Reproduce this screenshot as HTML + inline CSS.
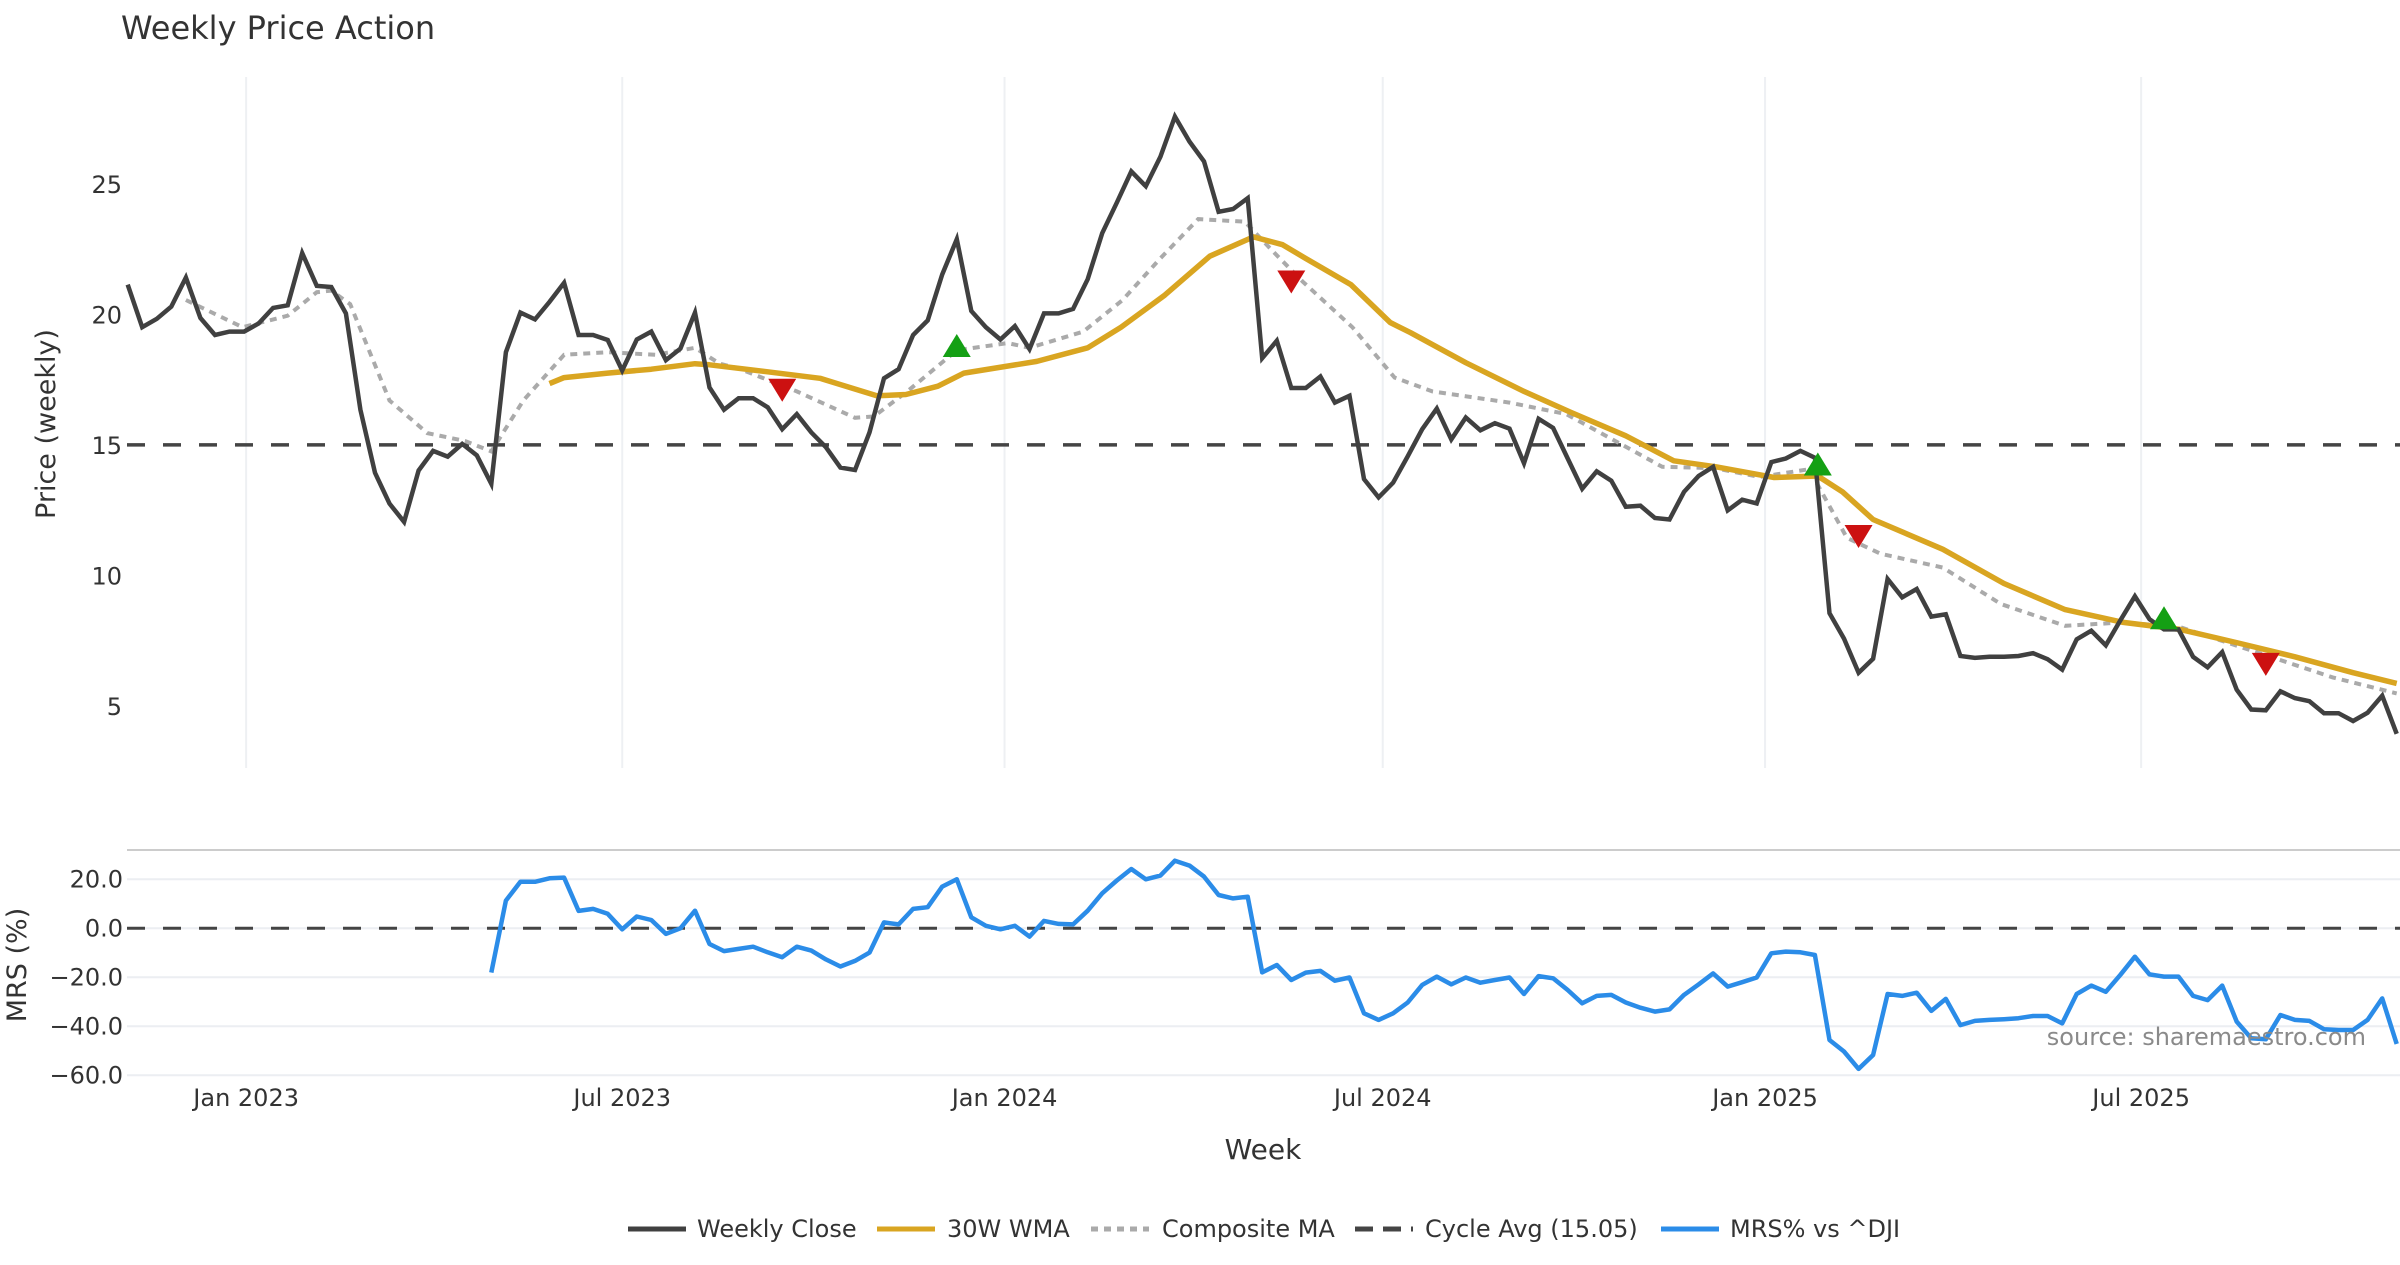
<!DOCTYPE html>
<html><head><meta charset="utf-8"><style>
html,body{margin:0;padding:0;background:#fff;}
svg text{font-family:"DejaVu Sans","Liberation Sans",sans-serif;fill:#333;}
</style></head><body>
<svg id="chart" width="2400" height="1260" xmlns="http://www.w3.org/2000/svg">
<text x="121" y="39" font-size="32">Weekly Price Action</text>
<g id="grid"></g><g id="series"></g><g id="axes"></g>
<text transform="translate(55,424) rotate(-90)" text-anchor="middle" font-size="27">Price (weekly)</text>
<text transform="translate(26,965) rotate(-90)" text-anchor="middle" font-size="27">MRS (%)</text>
<text x="1263" y="1159" text-anchor="middle" font-size="28">Week</text>
<text x="2366" y="1045" text-anchor="end" font-size="24" style="fill:#8a8a8a">source: sharemaestro.com</text>
<g id="legend"></g>
</svg>
<script>
const closeVals=[21.19,19.56,19.88,20.35,21.46,19.91,19.26,19.39,19.39,19.7,20.3,20.4,22.4,21.14,21.1,20.09,16.4,13.98,12.8,12.1,14.07,14.82,14.6,15.09,14.65,13.56,18.6,20.12,19.86,20.53,21.26,19.26,19.26,19.07,17.9,19.09,19.39,18.3,18.74,20.12,17.25,16.4,16.84,16.84,16.49,15.65,16.23,15.53,14.96,14.18,14.09,15.53,17.6,17.95,19.26,19.82,21.58,22.93,20.18,19.56,19.09,19.6,18.72,20.09,20.09,20.26,21.4,23.16,24.33,25.53,24.96,26.09,27.63,26.67,25.91,23.98,24.09,24.5,18.37,19.04,17.23,17.23,17.67,16.67,16.93,13.74,13.04,13.6,14.61,15.65,16.44,15.26,16.1,15.61,15.88,15.67,14.35,16.05,15.7,14.53,13.37,14.04,13.68,12.68,12.72,12.25,12.19,13.25,13.86,14.21,12.54,12.95,12.81,14.39,14.53,14.82,14.56,8.6,7.63,6.32,6.86,9.91,9.21,9.53,8.47,8.56,6.96,6.89,6.93,6.93,6.96,7.07,6.84,6.44,7.6,7.93,7.37,8.33,9.25,8.37,7.98,7.98,6.93,6.53,7.11,5.67,4.91,4.88,5.61,5.35,5.23,4.77,4.77,4.47,4.79,5.44,3.98];
const wmaWeeks=[29,30,33,36,39,40,44,47.6,51.5,53.5,55.7,57.5,62.5,66,68.3,71.3,74.4,77.4,79.4,81,84.1,86.8,88.2,92,96,99.2,103,106.3,109.2,113.2,116.2,117.9,120,124.8,129,133.2,137.2,141.1,145.1,149,153,156];
const wmaVals=[17.4,17.63,17.8,17.95,18.16,18.12,17.85,17.6,16.93,16.98,17.3,17.8,18.25,18.77,19.56,20.79,22.28,23.02,22.72,22.19,21.19,19.74,19.35,18.2,17.1,16.3,15.4,14.44,14.21,13.8,13.86,13.25,12.19,11.05,9.74,8.74,8.25,7.98,7.46,6.93,6.32,5.91];
const compWeeks=[4,7.9,11,13,14,15.3,18,20.6,23.2,25,27.2,30,33,36.3,39,40.7,42,46,50,51.3,53.6,57,60.5,62,65.7,68.4,71,73.6,76.8,78.9,80.8,84.2,87.1,89.7,95,98.9,105.5,109.1,112.2,115.6,118.2,120.5,124.8,128.8,133.2,137.2,141.1,146.4,151.6,156];
const compVals=[20.6,19.56,20,20.9,20.96,20.44,16.75,15.5,15.2,14.8,16.75,18.5,18.6,18.5,18.77,18.16,17.98,17.1,16.09,16.14,17.1,18.68,18.95,18.77,19.39,20.6,22.2,23.7,23.6,22.37,21.3,19.56,17.63,17.1,16.67,16.23,14.21,14.16,13.82,14.12,11.49,10.88,10.35,8.95,8.12,8.25,8.07,7.1,6.14,5.53];
const mrsStart=25;
const mrsVals=[-18.1,11.3,19.0,19.0,20.4,20.7,7.1,7.9,5.9,-0.4,4.8,3.4,-2.3,0,7.2,-6.4,-9.3,-8.4,-7.5,-9.8,-11.8,-7.5,-9.1,-12.7,-15.6,-13.3,-9.9,2.4,1.6,7.9,8.6,17,20,4.5,1,-0.4,1,-3.4,3,1.8,1.6,7.2,14.3,19.5,24.2,20,21.5,27.6,25.6,21.1,13.6,12.2,12.9,-18,-15,-21.1,-18.1,-17.4,-21.4,-20.1,-34.7,-37.4,-34.7,-30.3,-23.1,-19.7,-22.9,-20.1,-22.2,-21.1,-20.1,-26.8,-19.5,-20.4,-25.2,-30.6,-27.6,-27.2,-30.3,-32.4,-34,-33.1,-27.2,-22.9,-18.4,-23.8,-22,-20.1,-10.2,-9.5,-9.8,-10.9,-45.6,-50.3,-57.4,-51.7,-26.8,-27.6,-26.3,-33.7,-28.8,-39.5,-37.8,-37.4,-37.1,-36.7,-35.8,-35.8,-38.8,-26.8,-23.4,-25.9,-19,-11.6,-18.8,-19.7,-19.7,-27.6,-29.3,-23.4,-38.1,-44.9,-45.3,-35.4,-37.4,-37.8,-41.2,-41.5,-41.5,-37.4,-28.6,-47.2];
const cycleAvg=15.05;
const sigWeeks=[45,57,80,116.2,119,140,147];
const sigVals=[17.2,18.8,21.35,14.26,11.6,8.37,6.7];
const sigTypes=['sell','buy','sell','buy','sell','buy','sell'];
const priceTicks=[5,10,15,20,25];
const mrsTicks=[20,0,-20,-40,-60];
const mrsTickLabels=['20.0','0.0','\u221220.0','\u221240.0','\u221260.0'];
const dateTicks=['2023-01-01','2023-07-01','2024-01-01','2024-07-01','2025-01-01','2025-07-01'];
const dateTickLabels=['Jan 2023','Jul 2023','Jan 2024','Jul 2024','Jan 2025','Jul 2025'];

const NS='http://www.w3.org/2000/svg';
const X0=127.7, STEP=14.545, START=Date.UTC(2022,10,5);
const xi=i=>X0+i*STEP;
const xd=s=>{const t=Date.parse(s+'T00:00:00Z');return X0+(t-START)/864e5/7*STEP;};
const yp=v=>446.2-(v-15)*26.1;
const ym=v=>928.3-v*2.45;
function mk(tag,parent,attrs){const e=document.createElementNS(NS,tag);for(const k in attrs)e.setAttribute(k,attrs[k]);document.getElementById(parent).appendChild(e);return e;}
dateTicks.forEach((d,k)=>{
  const g=mk('line','grid',{x1:xd(d),x2:xd(d),y1:77,y2:768,stroke:'#eef0f3','stroke-width':2});
  
  
  const t=mk('text','axes',{x:xd(d),y:1106,'text-anchor':'middle','font-size':24});
  t.textContent=dateTickLabels[k];
  
  
});
priceTicks.forEach(v=>{
  const t=mk('text','axes',{x:122,y:yp(v)+8,'text-anchor':'end','font-size':24});
  t.textContent=v;
  
  
});
const mrsTopBorder=mk('line','grid',{x1:127,x2:2400,y1:850,y2:850,stroke:'#cccccc','stroke-width':2});


mrsTicks.forEach((v,k)=>{
  const g=mk('line','grid',{x1:127,x2:2400,y1:ym(v),y2:ym(v),stroke:'#eceef2','stroke-width':2});
  
  
  const t=mk('text','axes',{x:123,y:ym(v)+8,'text-anchor':'end','font-size':24});
  t.textContent=mrsTickLabels[k];
  
  
});
function path(pts){return pts.map((p,k)=>(k?'L':'M')+p[0].toFixed(1)+' '+p[1].toFixed(1)).join(' ');}
const cyc=mk('line','series',{x1:127,x2:2400,y1:yp(cycleAvg),y2:yp(cycleAvg),stroke:'#444','stroke-width':3.5,'stroke-dasharray':'18 18'});


const zl=mk('line','series',{x1:127,x2:2400,y1:ym(0),y2:ym(0),stroke:'#444','stroke-width':3,'stroke-dasharray':'18 18'});


const comp=mk('path','series',{d:path(compWeeks.map((w,k)=>[xi(w),yp(compVals[k])])),fill:'none',stroke:'#aaaaaa','stroke-width':4,'stroke-dasharray':'7 6'});


const wma=mk('path','series',{d:path(wmaWeeks.map((w,k)=>[xi(w),yp(wmaVals[k])])),fill:'none',stroke:'#d9a521','stroke-width':5.5,'stroke-linejoin':'round'});


const cl=mk('path','series',{d:path(closeVals.map((v,i)=>[xi(i),yp(v)])),fill:'none',stroke:'#404040','stroke-width':4.5});


const mrsLine=mk('path','series',{d:path(mrsVals.map((v,k)=>[xi(k+mrsStart),ym(v)])),fill:'none',stroke:'#2b8ce8','stroke-width':4.5,'stroke-linejoin':'round'});


sigWeeks.forEach((w,k)=>{
  const x=xi(w),y=yp(sigVals[k]);
  const pts=sigTypes[k]==='buy'?`${x-14},${y+10} ${x+14},${y+10} ${x},${y-13}`:`${x-14},${y-10} ${x+14},${y-10} ${x},${y+13}`;
  const t=mk('polygon','series',{points:pts,fill:sigTypes[k]==='buy'?'#14a014':'#cc1111'});
  
  
});
const leg=[['Weekly Close',628,697,'#404040',''],['30W WMA',877,947,'#d9a521',''],['Composite MA',1091,1162,'#aaaaaa','7 6'],['Cycle Avg (15.05)',1355,1425,'#444','18 10'],['MRS% vs ^DJI',1661,1730,'#2b8ce8','']];
leg.forEach(l=>{
  const s=mk('line','legend',{x1:l[1],x2:l[1]+58,y1:1229,y2:1229,stroke:l[3],'stroke-width':5,'stroke-dasharray':l[4]||'none'});
  
  
  const t=mk('text','legend',{x:l[2],y:1237,'font-size':24});
  t.textContent=l[0];
  
  
});
</script>
</body></html>
